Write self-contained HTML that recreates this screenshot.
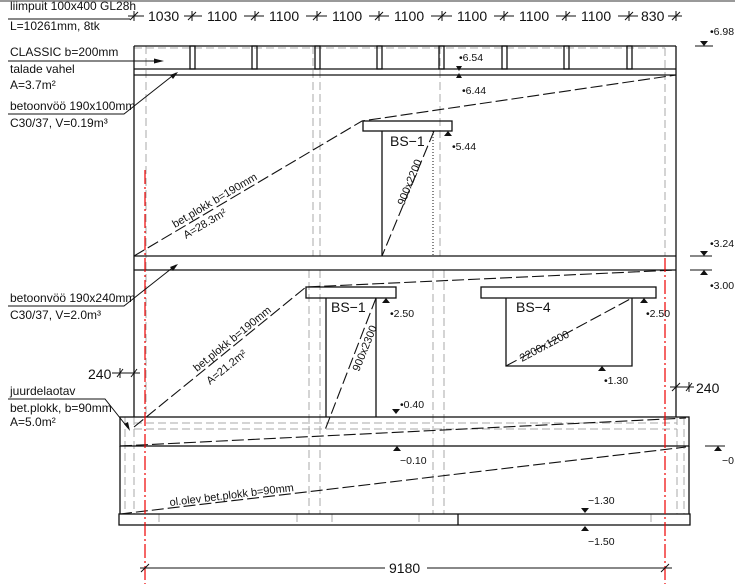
<!DOCTYPE html>
<html><head><meta charset="utf-8"><style>
html,body{margin:0;padding:0;background:#fff;}
svg{display:block;}
text{font-family:"Liberation Sans Narrow","Liberation Sans",sans-serif;fill:#111;}
</style></head><body>
<svg width="735" height="584" viewBox="0 0 735 584" xmlns="http://www.w3.org/2000/svg">
<rect x="0" y="0" width="735" height="2" fill="#999"/>
<g stroke="#111" stroke-width="1.2" fill="none">
<line x1="128" y1="16" x2="682" y2="16" stroke-width="1"/>
</g>
<g fill="#fff">
<rect x="144" y="8" width="40" height="16"/><rect x="202" y="8" width="42" height="16"/><rect x="264" y="8" width="42" height="16"/><rect x="327" y="8" width="42" height="16"/><rect x="389" y="8" width="42" height="16"/><rect x="452" y="8" width="42" height="16"/><rect x="514" y="8" width="42" height="16"/><rect x="576" y="8" width="42" height="16"/><rect x="638" y="8" width="30" height="16"/>
</g>
<g stroke="#111" stroke-width="1">
<path d="M130,20 L138,12 M188,20 L196,12 M251,20 L259,12 M313,20 L321,12 M375,20 L383,12 M438,20 L446,12 M500,20 L508,12 M562,20 L570,12 M625,20 L633,12 M672,20 L680,12"/>
<path d="M134,11 V21 M192,11 V21 M255,11 V21 M317,11 V21 M379,11 V21 M442,11 V21 M504,11 V21 M566,11 V21 M629,11 V21 M676,11 V21"/>
</g>
<g font-size="14">
<text x="148" y="21">1030</text><text x="207" y="21">1100</text><text x="269" y="21">1100</text><text x="332" y="21">1100</text><text x="394" y="21">1100</text><text x="457" y="21">1100</text><text x="519" y="21">1100</text><text x="581" y="21">1100</text><text x="641" y="21">830</text>
</g>

<g stroke="#aaa" stroke-width="1" stroke-dasharray="8,4" fill="none">
<line x1="134" y1="48" x2="665" y2="48"/>
<line x1="146" y1="46" x2="146" y2="417"/>
<line x1="665" y1="48" x2="665" y2="256"/>
<line x1="313" y1="46" x2="313" y2="256"/><line x1="320" y1="46" x2="320" y2="256"/>
<line x1="309" y1="270" x2="309" y2="514"/><line x1="320" y1="270" x2="320" y2="514"/>
<line x1="440" y1="46" x2="440" y2="256"/>
<line x1="433" y1="270" x2="433" y2="514"/><line x1="444" y1="270" x2="444" y2="514"/>
<line x1="125" y1="417" x2="125" y2="514"/><line x1="134" y1="417" x2="134" y2="514"/>
<line x1="677" y1="417" x2="677" y2="514"/><line x1="684" y1="417" x2="684" y2="514"/>
<line x1="134" y1="423" x2="677" y2="423"/><line x1="134" y1="429" x2="677" y2="429"/>
<line x1="159" y1="514" x2="159" y2="525"/><line x1="297" y1="514" x2="297" y2="525"/><line x1="332" y1="514" x2="332" y2="525"/><line x1="419" y1="514" x2="419" y2="525"/><line x1="651" y1="514" x2="651" y2="525"/>
</g>
<line x1="433" y1="131" x2="433" y2="256" stroke="#111" stroke-width="1" stroke-dasharray="1,2"/>

<g stroke="#111" stroke-width="1.3" fill="none">
<line x1="134" y1="46" x2="676" y2="46"/>
<line x1="134" y1="46" x2="134" y2="417"/>
<line x1="676" y1="46" x2="676" y2="417"/>
<line x1="134" y1="69" x2="676" y2="69"/>
<line x1="134" y1="75" x2="676" y2="75"/>
<line x1="134" y1="256" x2="676" y2="256"/>
<line x1="134" y1="270" x2="676" y2="270"/>
<rect x="120" y="417" width="569" height="29"/>
<line x1="120" y1="446" x2="120" y2="514"/><line x1="689" y1="446" x2="689" y2="514"/>
<rect x="119" y="514" width="571" height="11"/>
<line x1="458" y1="514" x2="458" y2="525"/>
<rect x="190" y="46" width="5" height="23"/><rect x="252" y="46" width="5" height="23"/><rect x="315" y="46" width="5" height="23"/><rect x="377" y="46" width="5" height="23"/><rect x="439" y="46" width="5" height="23"/><rect x="502" y="46" width="5" height="23"/><rect x="564" y="46" width="5" height="23"/><rect x="627" y="46" width="5" height="23"/>
<rect x="363" y="121" width="89" height="10"/>
<line x1="382" y1="131" x2="382" y2="256"/>
<rect x="306" y="287" width="90" height="11"/>
<line x1="326" y1="298" x2="326" y2="417"/><line x1="376" y1="298" x2="376" y2="417"/>
<rect x="481" y="287" width="175" height="11"/>
<polyline points="506,298 506,366 632,366 632,298"/>
</g>

<g stroke="#111" stroke-width="1.1" fill="none" stroke-dasharray="12,4">
<polyline points="134,256 362,121 676,75"/>
<line x1="434" y1="131" x2="382" y2="256"/>
<polyline points="134,427 306,287 676,270"/>
<line x1="376" y1="298" x2="325" y2="430"/>
<line x1="506" y1="366" x2="632" y2="298"/>
<line x1="120" y1="446" x2="686" y2="418"/>
<line x1="120" y1="514" x2="686" y2="447"/>
</g>

<line x1="145" y1="170" x2="145" y2="584" stroke="#e00" stroke-width="1.2" stroke-dasharray="14,3,2,3"/>
<line x1="665" y1="258" x2="665" y2="584" stroke="#e00" stroke-width="1.2" stroke-dasharray="14,3,2,3"/>

<g stroke="#111" stroke-width="1">
<line x1="140" y1="568" x2="385" y2="568"/><line x1="427" y1="568" x2="672" y2="568"/>
<path d="M141,572 L149,564 M661,572 L669,564"/>
</g>
<text x="389" y="573" font-size="14">9180</text>

<g stroke="#111" stroke-width="1">
<line x1="112" y1="373" x2="140" y2="373"/><path d="M117,377 L123,369 M131,377 L137,369 M120,368 V378"/>
<line x1="670" y1="387" x2="694" y2="387"/><path d="M672,391 L680,383 M686,391 L692,383 M689,382 V392"/>
</g>
<text x="88" y="379" font-size="14">240</text>
<text x="696" y="393" font-size="14">240</text>

<g stroke="#111" stroke-width="1" fill="none">
<line x1="8" y1="19" x2="130" y2="19"/>
<line x1="8" y1="61" x2="160" y2="61"/>
<polyline points="8,114 124,114 176,73"/>
<polyline points="8,306 124,306 176,265"/>
<polyline points="8,399 105,399 128,428"/>
</g>
<g fill="#111">
<polygon points="164,61 154,58.5 154,63.5"/>
<polygon points="178,72 170,75 173,79"/>
<polygon points="178,264 170,267 173,271"/>
<polygon points="130,431 124,424 128,422"/>
<polygon points="456,66 462,66 459,71"/><polygon points="456,78 462,78 459,73"/>
<polygon points="700,41 708,41 704,46"/>
<polygon points="700,251 708,251 704,256"/><polygon points="700,275 708,275 704,270"/>
<polygon points="444,136 452,136 448,131"/>
<polygon points="382,303 390,303 386,298"/>
<polygon points="640,303 648,303 644,298"/>
<polygon points="598,371 606,371 602,366"/>
<polygon points="392,409 400,409 396,414"/>
<polygon points="393,451 401,451 397,446"/>
<polygon points="714,451 722,451 718,446"/>
<polygon points="581,508 589,508 585,513"/>
<polygon points="581,531 589,531 585,526"/>
</g>
<g stroke="#111" stroke-width="1">
<line x1="695" y1="46" x2="713" y2="46"/>
<line x1="690" y1="256" x2="712" y2="256"/><line x1="690" y1="270" x2="712" y2="270"/>
<line x1="705" y1="446" x2="725" y2="446"/>
</g>

<g font-size="12">
<text x="10" y="10">liimpuit 100x400 GL28h</text>
<text x="10" y="30">L=10261mm, 8tk</text>
<text x="10" y="56">CLASSIC b=200mm</text>
<text x="10" y="73">talade vahel</text>
<text x="10" y="89">A=3.7m²</text>
<text x="10" y="110">betoonvöö 190x100mm</text>
<text x="10" y="127">C30/37, V=0.19m³</text>
<text x="10" y="302">betoonvöö 190x240mm</text>
<text x="10" y="319">C30/37, V=2.0m³</text>
<text x="10" y="395">juurdelaotav</text>
<text x="10" y="412">bet.plokk, b=90mm</text>
<text x="10" y="426">A=5.0m²</text>
</g>
<g font-size="10.5">
<text x="459" y="61">•6.54</text>
<text x="462" y="94">•6.44</text>
<text x="710" y="35">•6.98</text>
<text x="452" y="150">•5.44</text>
<text x="710" y="247">•3.24</text>
<text x="710" y="289">•3.00</text>
<text x="390" y="317">•2.50</text>
<text x="646" y="317">•2.50</text>
<text x="604" y="384">•1.30</text>
<text x="400" y="408">•0.40</text>
<text x="400" y="464">−0.10</text>
<text x="722" y="464">−0.</text>
<text x="588" y="504">−1.30</text>
<text x="588" y="545">−1.50</text>
</g>
<g font-size="14">
<text x="390" y="146">BS−1</text>
<text x="331" y="312">BS−1</text>
<text x="516" y="312">BS−4</text>
</g>
<g font-size="11">
<text transform="translate(404,206) rotate(-68)">900x2200</text>
<text transform="translate(359,372) rotate(-68)">900x2300</text>
<text transform="translate(522,362) rotate(-28)">2200x1200</text>
<text transform="translate(175,228) rotate(-30.6)">bet.plokk  b=190mm</text>
<text transform="translate(186,239) rotate(-30.6)">A=28.3m²</text>
<text transform="translate(197,372) rotate(-39)">bet.plokk  b=190mm</text>
<text transform="translate(210,385) rotate(-39)">A=21.2m²</text>
<text transform="translate(170,506) rotate(-6.9)">ol.olev  bet.plokk  b=90mm</text>
</g>
</svg>
</body></html>
